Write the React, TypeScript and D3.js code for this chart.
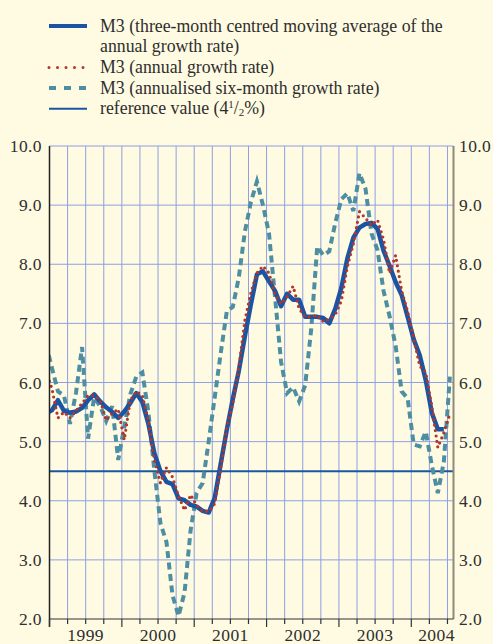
import React from 'react';
import * as d3 from 'd3';

// monthly, first value = Dec 1998
const firstMonth = -1;
const m3Average = [5.48, 5.53, 5.70, 5.52, 5.49, 5.51, 5.57, 5.70, 5.80, 5.68, 5.58, 5.50, 5.40, 5.51, 5.65, 5.82, 5.67, 5.30, 4.80, 4.50, 4.32, 4.28, 4.04, 4.01, 3.93, 3.90, 3.83, 3.80, 4.05, 4.63, 5.20, 5.72, 6.20, 6.78, 7.32, 7.83, 7.88, 7.71, 7.55, 7.29, 7.50, 7.40, 7.40, 7.11, 7.11, 7.11, 7.09, 7.00, 7.25, 7.60, 8.10, 8.45, 8.62, 8.68, 8.70, 8.60, 8.23, 7.97, 7.70, 7.48, 7.11, 6.73, 6.46, 6.04, 5.49, 5.21, 5.21];
const m3Annual = [6.20, 5.90, 5.40, 5.50, 5.40, 5.52, 5.65, 5.78, 5.78, 5.70, 5.36, 5.48, 5.55, 5.03, 5.70, 5.85, 5.78, 5.35, 4.68, 4.30, 4.56, 4.40, 4.08, 3.84, 4.10, 3.92, 3.82, 3.82, 3.95, 4.55, 5.25, 5.65, 6.25, 7.05, 7.52, 7.85, 7.97, 7.85, 7.50, 7.33, 7.45, 7.63, 7.25, 7.11, 7.11, 7.14, 7.03, 7.07, 7.15, 7.38, 7.96, 8.35, 8.89, 8.78, 8.66, 8.75, 8.42, 7.85, 8.15, 7.55, 7.20, 6.75, 6.28, 6.17, 5.60, 4.90, 5.15, 5.47];
const m3SixMonth = [6.65, 6.25, 5.85, 5.78, 5.30, 5.83, 6.60, 5.05, 5.75, 5.60, 5.35, 5.60, 4.69, 5.25, 5.80, 6.10, 6.17, 5.50, 4.50, 3.62, 3.30, 2.40, 2.05, 2.45, 3.50, 4.13, 4.30, 5.00, 5.75, 6.50, 7.20, 7.28, 7.78, 8.55, 9.05, 9.40, 9.00, 8.52, 7.45, 6.35, 5.82, 5.92, 5.68, 5.95, 6.90, 8.30, 8.15, 8.22, 8.70, 9.10, 9.20, 8.90, 9.54, 9.28, 8.52, 8.24, 7.55, 7.12, 6.62, 5.85, 5.73, 4.95, 4.92, 5.17, 4.60, 4.13, 4.66, 6.10];
const referenceValue = 4.5;
const years = ['1999', '2000', '2001', '2002', '2003', '2004'];
const yTicks = [2, 3, 4, 5, 6, 7, 8, 9, 10];

const width = 493;
const height = 644;
const plot = {left: 49.5, right: 453.5, top: 146, bottom: 619};
const font = '"Liberation Serif", "DejaVu Serif", serif';

const colors = {
    bg: '#fefbe2',
    grid: '#8e9fe2',
    avg: '#1a54a2',
    annual: '#b3352c',
    six: '#4d8ea3',
    ref: '#1a56a0',
    text: '#2e2e2e'
};

const x = d3.scaleLinear().domain([0, 67]).range([plot.left, plot.right]);
const y = d3.scaleLinear().domain([2, 10]).range([plot.bottom, plot.top]);

const monthLine = d3.line<number>()
    .x((d, i) => x(i + firstMonth + 0.4))
    .y(d => y(d));

const App = () => {
    const quarters = d3.range(0, 67, 3);
    const legendRows = [
        {kind: 'avg', text: 'M3 (three-month centred moving average of the'},
        {kind: null, text: 'annual growth rate)'},
        {kind: 'annual', text: 'M3 (annual growth rate)'},
        {kind: 'six', text: 'M3 (annualised six-month growth rate)'},
        {kind: 'ref', text: 'reference value'}
    ];
    const legendStyle = {
        avg: {stroke: colors.avg, strokeWidth: 4},
        annual: {stroke: colors.annual, strokeWidth: 3, strokeDasharray: '0 8.5', strokeLinecap: 'round'},
        six: {stroke: colors.six, strokeWidth: 4, strokeDasharray: '7 8'},
        ref: {stroke: colors.ref, strokeWidth: 2}
    };

    return (
        <svg width={width} height={height} style={{position: 'absolute', left: 0, top: 0, fontFamily: font}}>
            <defs>
                <clipPath id="plotClip">
                    <rect x={plot.left} y={plot.top - 5} width={plot.right - plot.left} height={plot.bottom - plot.top + 5}/>
                </clipPath>
            </defs>
            <rect width={width} height={height} fill={colors.bg}/>

            {/* legend */}
            <g fill={colors.text} fontSize={17.8}>
                {legendRows.map((row, i) => {
                    const base = 31.5 + i * 20.7;
                    return (
                        <g key={i}>
                            {row.kind && <line x1={49} x2={87} y1={base - 5.5} y2={base - 5.5} {...legendStyle[row.kind]}/>}
                            <text x={100} y={base}>
                                {row.text}
                                {row.kind === 'ref' && <>
                                    {' (4'}
                                    <tspan fontSize={11} dy={-6}>1</tspan>
                                    <tspan dy={6}>/</tspan>
                                    <tspan fontSize={11} dy={2}>2</tspan>
                                    <tspan dy={-2}>%)</tspan>
                                </>}
                            </text>
                        </g>
                    );
                })}
            </g>

            {/* grid */}
            <g stroke={colors.grid} strokeWidth={1}>
                {quarters.filter(q => q > 0).map(q => (
                    <line key={q} x1={x(q)} x2={x(q)} y1={plot.top} y2={plot.bottom}/>
                ))}
                {yTicks.slice(1).map(t => (
                    <line key={t} x1={plot.left} x2={plot.right} y1={y(t)} y2={y(t)}/>
                ))}
            </g>

            {/* reference value */}
            <line x1={plot.left} x2={plot.right} y1={y(referenceValue)} y2={y(referenceValue)}
                  stroke={colors.ref} strokeWidth={2}/>

            {/* series */}
            <g clipPath="url(#plotClip)" fill="none">
                <path d={monthLine(m3SixMonth)} stroke={colors.six} strokeWidth={4} strokeDasharray="7 4.5"/>
                <path d={monthLine(m3Average)} stroke={colors.avg} strokeWidth={4.5} strokeLinejoin="round"/>
                <path d={monthLine(m3Annual)} stroke={colors.annual} strokeWidth={3.2}
                      strokeDasharray="0 5.5" strokeLinecap="round"/>
            </g>

            {/* axes */}
            <line x1={plot.left} x2={plot.left} y1={plot.top} y2={plot.bottom + 8} stroke="#222" strokeWidth={1.5}/>
            <line x1={plot.right} x2={plot.right} y1={plot.top} y2={plot.bottom} stroke="#8d8a7a" strokeWidth={2}/>
            <line x1={plot.left} x2={plot.right} y1={plot.bottom} y2={plot.bottom} stroke="#333" strokeWidth={1.2}/>
            <g stroke="#333" strokeWidth={1.2}>
                {quarters.map(q => (
                    <line key={q} x1={x(q)} x2={x(q)} y1={plot.bottom} y2={plot.bottom + (q % 12 === 0 ? 8 : 5)}/>
                ))}
            </g>

            <g fill={colors.text} fontSize={17.5} letterSpacing={0.4}>
                {yTicks.map(t => (
                    <g key={t}>
                        <text x={42} y={y(t) + 6} textAnchor="end">{t.toFixed(1)}</text>
                        <text x={459} y={y(t) + 6}>{t.toFixed(1)}</text>
                    </g>
                ))}
                {years.map((yr, i) => (
                    <text key={yr} x={Math.min(x(i * 12 + 6), plot.right - 17)} y={641} textAnchor="middle">{yr}</text>
                ))}
            </g>
        </svg>
    );
};

export default App;
